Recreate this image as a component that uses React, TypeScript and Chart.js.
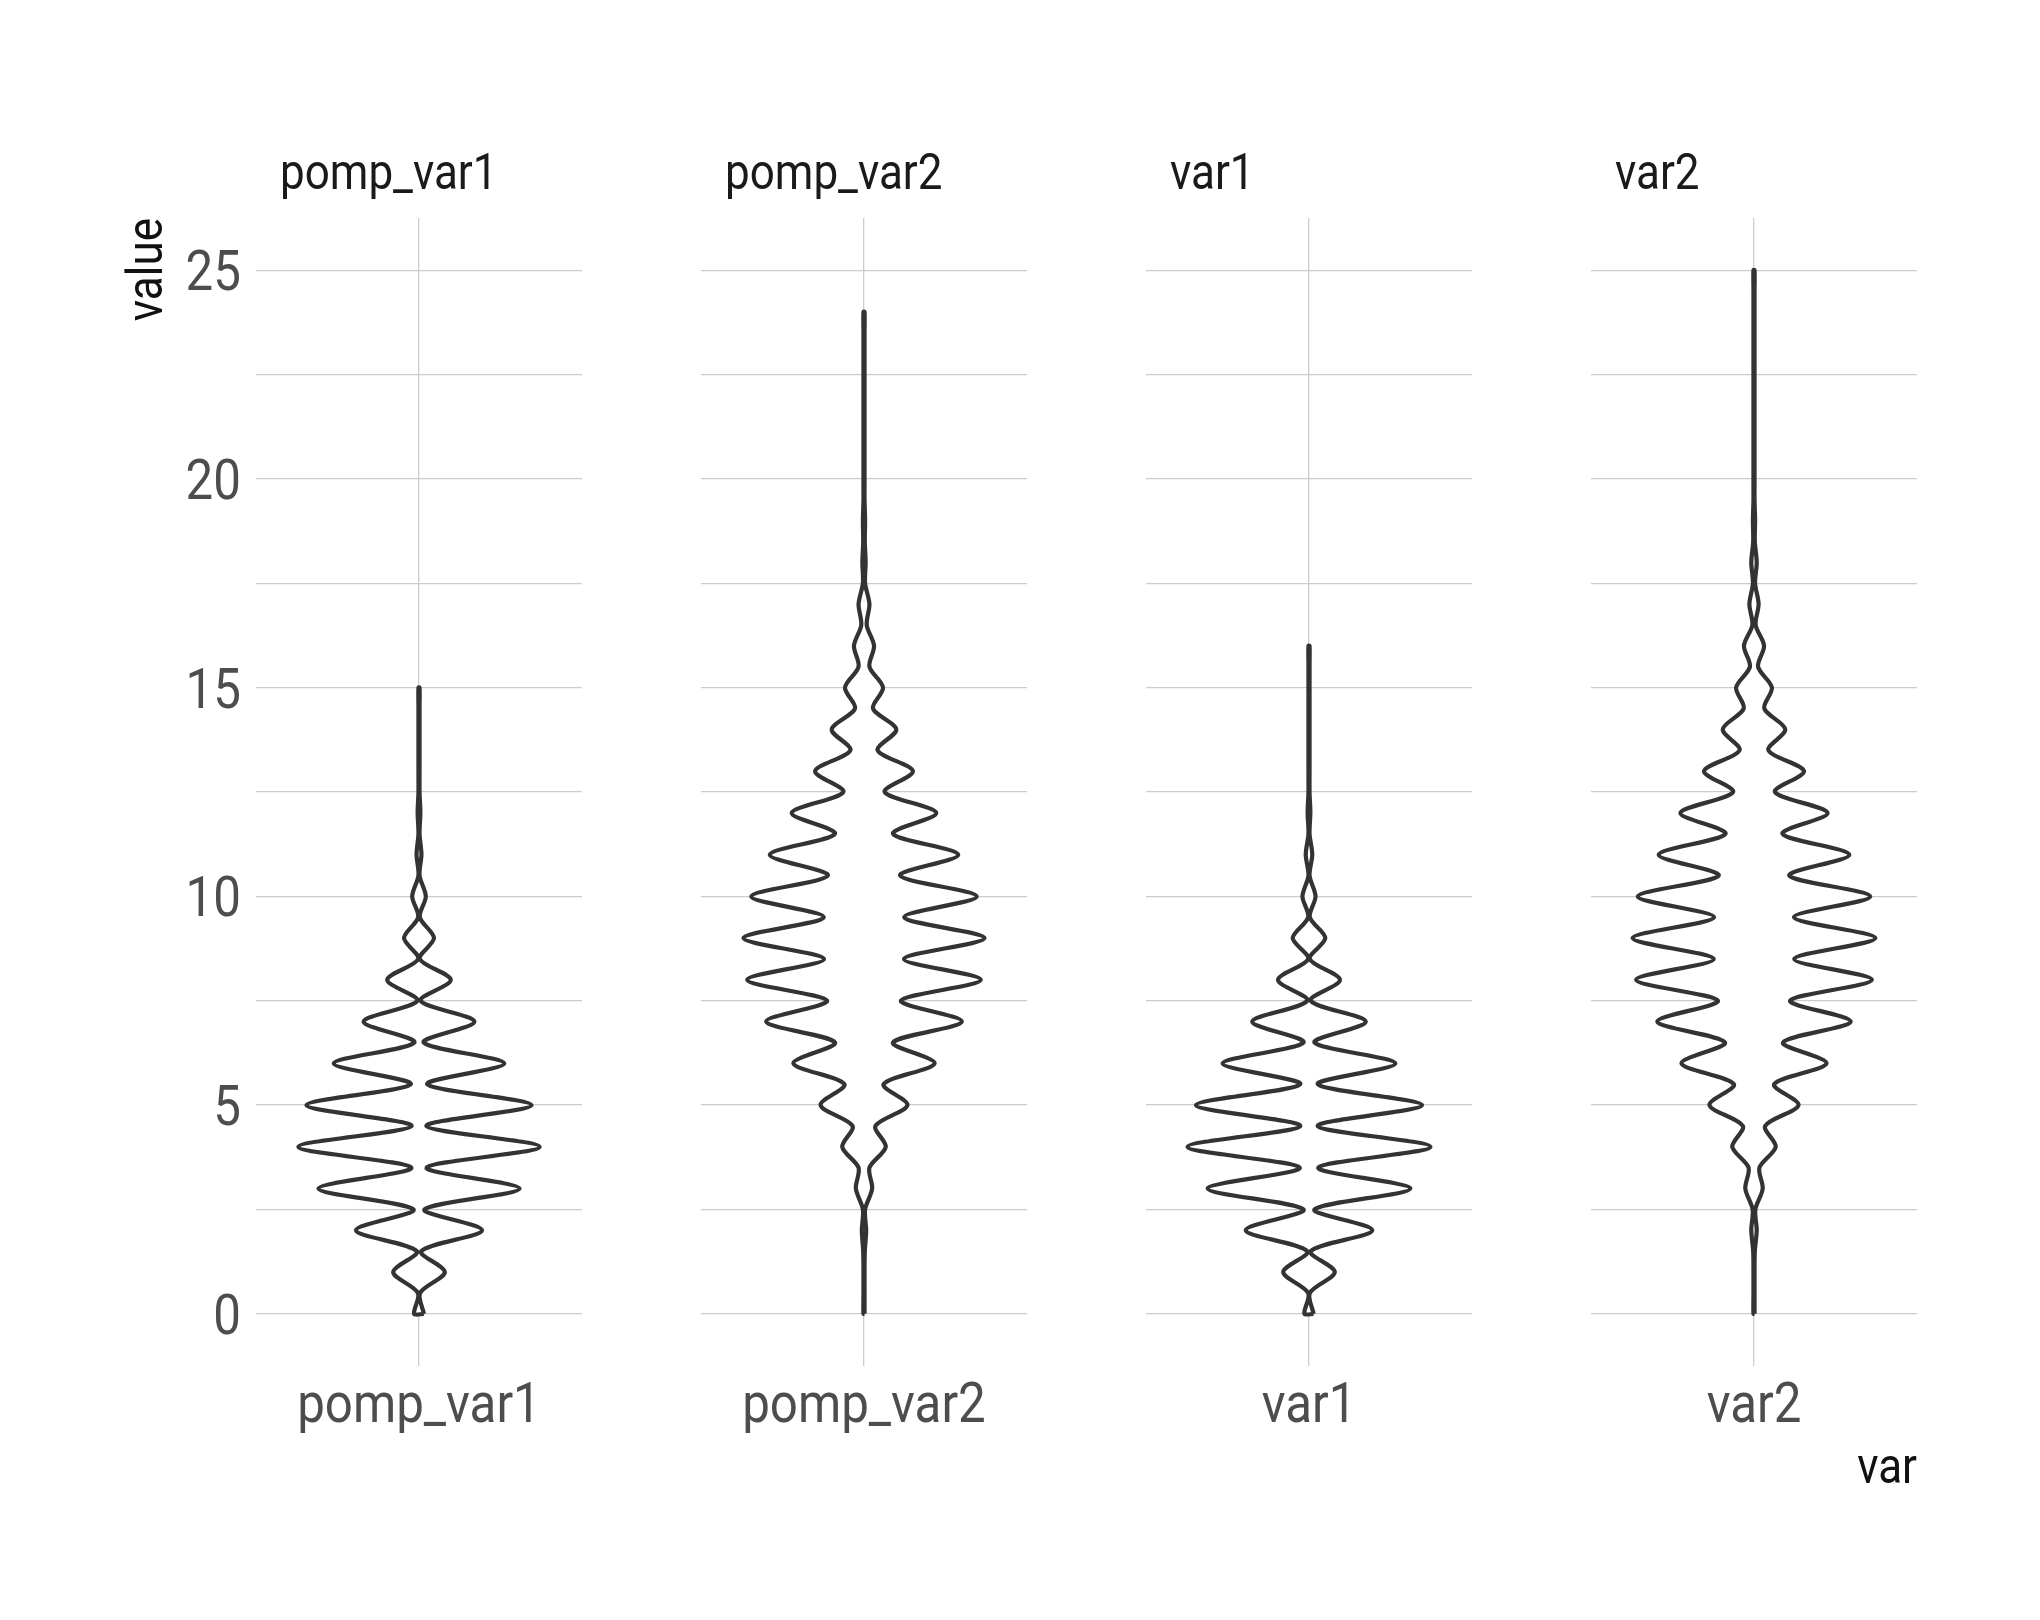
import React, { useEffect, useRef } from 'react';
import { Chart, registerables } from 'chart.js';

Chart.register(...registerables);

// ---------- data ----------
const CATEGORIES = ['pomp_var1', 'pomp_var2', 'var1', 'var2'];
const Y_TICKS = [0, 2.5, 5, 7.5, 10, 12.5, 15, 17.5, 20, 22.5, 25];
const Y_LABELS = ['0', '', '5', '', '10', '', '15', '', '20', '', '25'];

// density evaluation levels (value axis)
const DENSITY_Y = [
  0, 0.5, 1, 1.5, 2, 2.5, 3, 3.5, 4, 4.5, 5, 5.5, 6, 6.5, 7, 7.5, 8, 8.5, 9, 9.5,
  10, 10.5, 11, 11.5, 12, 12.5, 13, 13.5, 14, 14.5, 15, 15.5, 16, 16.5, 17, 17.5,
  18, 18.5, 19, 19.5, 20, 20.5, 21, 21.5, 22, 22.5, 23, 23.5, 24, 24.5, 25,
];

// violin half-widths (x units) at DENSITY_Y levels
const HALF_WIDTH_POMP_VAR1 = [
  0.018, 0.004, 0.095, 0.008, 0.232, 0.02, 0.37, 0.028, 0.444, 0.027,
  0.414, 0.03, 0.314, 0.017, 0.204, 0.006, 0.117, 0.003, 0.055, 0.003,
  0.025, 0.002, 0.009, 0.002, 0.005, 0.002, 0.002, 0.002, 0.002, 0.002, 0.002,
];
const HALF_WIDTH_POMP_VAR2 = [
  0.002, 0.002, 0.002, 0.003, 0.008, 0.004, 0.03, 0.02, 0.08, 0.042,
  0.16, 0.072, 0.26, 0.107, 0.36, 0.136, 0.43, 0.147, 0.444, 0.148,
  0.415, 0.133, 0.347, 0.107, 0.266, 0.076, 0.18, 0.05, 0.119, 0.033,
  0.07, 0.02, 0.037, 0.01, 0.02, 0.004, 0.006, 0.003, 0.004, 0.002,
  0.002, 0.002, 0.002, 0.002, 0.002, 0.002, 0.002, 0.002, 0.002,
];
const HALF_WIDTH_VAR1 = [
  0.017, 0.003, 0.095, 0.006, 0.233, 0.02, 0.373, 0.034, 0.447, 0.032,
  0.416, 0.032, 0.318, 0.02, 0.209, 0.006, 0.114, 0.003, 0.06, 0.003,
  0.024, 0.002, 0.012, 0.002, 0.005, 0.002, 0.002, 0.002, 0.002, 0.002,
  0.002, 0.002, 0.002,
];
const HALF_WIDTH_VAR2 = [
  0.002, 0.002, 0.002, 0.003, 0.01, 0.005, 0.032, 0.02, 0.08, 0.041,
  0.164, 0.074, 0.267, 0.107, 0.356, 0.133, 0.434, 0.148, 0.447, 0.147,
  0.428, 0.13, 0.351, 0.105, 0.271, 0.077, 0.184, 0.053, 0.115, 0.038,
  0.066, 0.015, 0.037, 0.006, 0.017, 0.004, 0.01, 0.003, 0.004, 0.002,
  0.002, 0.002, 0.002, 0.002, 0.002, 0.002, 0.002, 0.002, 0.002, 0.002, 0.002,
];
const HALF_WIDTHS = [HALF_WIDTH_POMP_VAR1, HALF_WIDTH_POMP_VAR2, HALF_WIDTH_VAR1, HALF_WIDTH_VAR2];

// ---------- layout ----------
const W = 2040;
const H = 1620;
const PANEL_LEFT0 = 256;
const PANEL_STEP = 445;
const PANEL_W = 326;
const PANEL_TOP = 218;
const PANEL_BOTTOM = 1366;
const FONT = 'Roboto, sans-serif';
const CONDENSE = 0.88;
const TICK_SIZE = 56;

function drawText(ctx: CanvasRenderingContext2D, text: string, x: number, y: number, size: number,
  color: string, align: CanvasTextAlign, rotate = 0) {
  ctx.save();
  ctx.translate(x, y);
  if (rotate) ctx.rotate(rotate);
  ctx.scale(CONDENSE, 1);
  ctx.font = `${size}px ${FONT}`;
  ctx.fillStyle = color;
  ctx.textAlign = align;
  ctx.textBaseline = 'alphabetic';
  ctx.fillText(text, 0, 0);
  ctx.restore();
}

const facetText = {
  id: 'facetText',
  afterDraw(chart: any, _args: any, opts: any) {
    const { ctx, chartArea, scales } = chart;
    // strip title
    drawText(ctx, opts.strip, chartArea.left + 24, 189, 50, '#1a1a1a', 'left');
    // x tick labels (from the x scale's ticks)
    const xs = scales.x;
    xs.ticks.forEach((t: any) => {
      drawText(ctx, opts.xLabel, xs.getPixelForValue(t.value), 1422, TICK_SIZE, '#4d4d4d', 'center');
    });
    // y tick labels (from the y scale's ticks)
    if (opts.showY) {
      const ys = scales.y;
      ys.ticks.forEach((t: any, i: number) => {
        const lab = Y_LABELS[i];
        if (lab) drawText(ctx, lab, chartArea.left - 15, ys.getPixelForValue(t.value) + 20, TICK_SIZE, '#4d4d4d', 'right');
      });
    }
    if (opts.yTitle) drawText(ctx, opts.yTitle, 162, chartArea.top, 50, '#111111', 'right', -Math.PI / 2);
    if (opts.xTitle) drawText(ctx, opts.xTitle, chartArea.right, 1483, 50, '#111111', 'right');
  },
};

function violinPoints(widths: number[]) {
  const right = widths.map((w, i) => ({ x: 1 + w, y: DENSITY_Y[i] }));
  const left = widths.map((w, i) => ({ x: 1 - w, y: DENSITY_Y[i] })).reverse();
  return [...right, ...left, right[0]];
}

function Panel({ index }: { index: number }) {
  const ref = useRef<HTMLCanvasElement>(null);
  const areaLeft = PANEL_LEFT0 + PANEL_STEP * index;
  const canvasLeft = index === 0 ? 0 : areaLeft;
  const canvasW = areaLeft + PANEL_W - canvasLeft;
  const name = CATEGORIES[index];

  useEffect(() => {
    if (!ref.current) return;
    const chart = new Chart(ref.current, {
      type: 'line',
      data: {
        datasets: [
          {
            data: violinPoints(HALF_WIDTHS[index]),
            borderColor: '#333333',
            borderWidth: 4.2,
            backgroundColor: '#ffffff',
            fill: 'shape',
            pointRadius: 0,
            tension: 0.3,
          } as any,
        ],
      },
      options: {
        responsive: false,
        animation: false,
        layout: { padding: { top: PANEL_TOP, left: 0, right: 0, bottom: 0 } },
        plugins: {
          legend: { display: false },
          tooltip: { enabled: false },
          facetText: {
            strip: name,
            xLabel: name,
            showY: index === 0,
            yTitle: index === 0 ? 'value' : '',
            xTitle: index === 3 ? 'var' : '',
          },
        } as any,
        scales: {
          x: {
            type: 'linear',
            min: 0.4,
            max: 1.6,
            afterBuildTicks: (s: any) => { s.ticks = [{ value: 1 }]; },
            afterFit: (s: any) => { s.height = H - PANEL_BOTTOM; },
            ticks: { display: false },
            grid: { color: '#cccccc', lineWidth: 1.3, drawTicks: false },
            border: { display: false },
          },
          y: {
            type: 'linear',
            min: -1.25,
            max: 26.25,
            afterBuildTicks: (s: any) => { s.ticks = Y_TICKS.map((v) => ({ value: v })); },
            afterFit: (s: any) => { s.width = index === 0 ? PANEL_LEFT0 : 0; },
            ticks: { display: false },
            grid: { color: '#cccccc', lineWidth: 1.3, drawTicks: false },
            border: { display: false },
          },
        },
      } as any,
      plugins: [facetText],
    });
    return () => chart.destroy();
  }, [index]);

  return (
    <canvas
      ref={ref}
      width={canvasW}
      height={H}
      style={{ position: 'absolute', left: canvasLeft, top: 0, width: canvasW, height: H }}
    />
  );
}

export default function App() {
  return (
    <div style={{ position: 'absolute', left: 0, top: 0, width: W, height: H, background: '#ffffff', overflow: 'hidden' }}>
      {CATEGORIES.map((c, i) => (
        <Panel key={c} index={i} />
      ))}
    </div>
  );
}
